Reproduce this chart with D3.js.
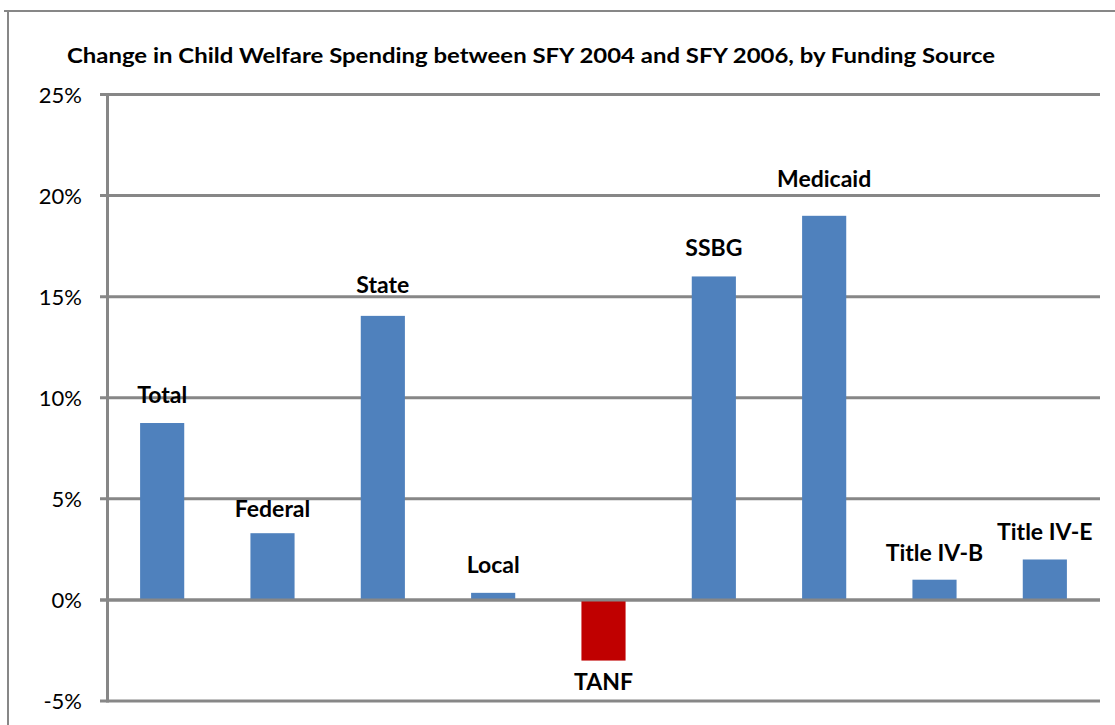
<!DOCTYPE html>
<html><head><meta charset="utf-8">
<script src="https://cdn.jsdelivr.net/npm/d3@7"></script>
<style>body{margin:0;background:#fff;} svg{display:block;}</style>
</head><body>
<svg id="c" width="1115" height="725"></svg>
<script>
const categories = ["Total","Federal","State","Local","TANF","SSBG","Medicaid","Title IV-B","Title IV-E"];
const values = [8.75, 3.3, 14.05, 0.35, -3.0, 16.0, 19.0, 1.0, 2.0];
const tickValues = [-5, 0, 5, 10, 15, 20, 25];
const titleText = "Change in Child Welfare Spending between SFY 2004 and SFY 2006, by Funding Source";
const labelGaps = [20, 16, 23, 20, 29, 20, 29, 19, 19];

const svg = d3.select("#c");
const font = "Lato, 'Noto Sans', sans-serif";
const gridColor = "#878787";

// outer frame
svg.append("path").attr("d","M4,11H1115M8,11V725").attr("stroke",gridColor).attr("stroke-width",2).attr("fill","none");

const x = d3.scaleBand().domain(categories).range([107,1100]).paddingInner(0.6).paddingOuter(0.3);
const y = d3.scaleLinear().domain([-5,25]).range([701,94.5]);

// gridlines
svg.append("g").selectAll("line").data(tickValues).join("line")
  .attr("x1",100).attr("x2",1100)
  .attr("y1",d=>y(d)).attr("y2",d=>y(d))
  .attr("stroke",gridColor).attr("stroke-width",3);

// y axis labels
svg.append("g").selectAll("text").data(tickValues).join("text")
  .attr("x",82).attr("y",d=>y(d)+8)
  .attr("text-anchor","end").attr("font-family",font).attr("font-size",22).attr("fill","#000")
  .text(d=>d+"%");

// bars
svg.append("g").selectAll("rect").data(values).join("rect")
  .attr("x",(d,i)=>x(categories[i]))
  .attr("width",x.bandwidth())
  .attr("y",d=>y(Math.max(0,d)))
  .attr("height",d=>Math.abs(y(d)-y(0)))
  .attr("fill",d=>d<0?"#C00000":"#4F81BD");

// zero line again over bars
svg.append("line").attr("x1",100).attr("x2",1100).attr("y1",y(0)).attr("y2",y(0)).attr("stroke",gridColor).attr("stroke-width",3);
// y axis
svg.append("line").attr("x1",107.5).attr("x2",107.5).attr("y1",y(25)-1.5).attr("y2",y(-5)+1.5).attr("stroke",gridColor).attr("stroke-width",3);

// labels
svg.append("g").selectAll("text").data(values).join("text")
  .attr("x",(d,i)=>x(categories[i])+x.bandwidth()/2)
  .attr("y",(d,i)=> d>=0 ? y(d)-labelGaps[i] : y(d)+labelGaps[i])
  .attr("text-anchor","middle").attr("font-family",font).attr("font-weight","bold")
  .attr("font-size",23).attr("fill","#000")
  .text((d,i)=>categories[i]);

// title
svg.append("text").attr("x",531).attr("y",63).attr("text-anchor","middle")
  .attr("font-family",font).attr("font-weight","bold").attr("font-size",20)
  .attr("textLength",928).attr("lengthAdjust","spacingAndGlyphs")
  .attr("fill","#000").text(titleText);
</script>
</body></html>
